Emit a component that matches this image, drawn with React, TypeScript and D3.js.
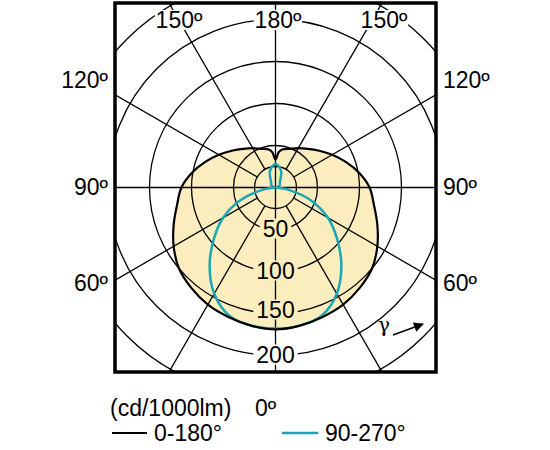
import React from 'react';
import * as d3 from 'd3';

// luminous intensity, cd/1000lm, read at gamma angles (0 = straight down)
const gammaDeg = [0, 10, 20, 30, 40, 50, 60, 70, 80, 90, 100, 110, 120, 130, 140, 150, 160, 170, 175, 180];
const plane0to180 = [169, 167, 164, 161, 156, 150, 140, 129, 119, 112, 101, 89, 78, 68, 60, 54, 49, 46, 42, 33];
const plane90to270 = [168, 167, 162, 146, 122, 96, 72, 45, 16, 1, 2, 3.5, 6, 7, 8, 12, 20, 25, 27, 28];

const gridRings = [25, 50, 100, 150, 200, 250];
const ringLabels = [50, 100, 150, 200];
const spokeDeg = [0, 30, 60, 90, 120, 150];
const topLabels = ['150º', '180º', '150º'];
const sideLabels = ['120º', '90º', '60º'];
const unitLabel = '(cd/1000lm)';
const zeroLabel = '0º';
const legendNames = ['0-180°', '90-270°'];

const FILL = '#fcedbf';
const TEAL = '#1ba6b4';
const FONT = 'Liberation Sans, Arial, sans-serif';

const App = () => {
  const W = 550, H = 450;
  const fr = { x0: 115, x1: 436, y0: 3, y1: 372 };
  const cx = (fr.x0 + fr.x1) / 2;
  const cy = (fr.y0 + fr.y1) / 2;
  const fs = 23;

  const r = d3.scaleLinear().domain([0, 250]).range([0, 210]);
  const rad = (d: number) => (d * Math.PI) / 180;

  // closed outline, symmetric about the vertical axis
  const polarPath = (vals: number[]) => {
    const pts: [number, number][] = [];
    gammaDeg.forEach((g, i) => pts.push([Math.PI - rad(g), r(vals[i])]));
    for (let i = gammaDeg.length - 2; i > 0; i--) pts.push([rad(gammaDeg[i]) - Math.PI, r(vals[i])]);
    return d3.lineRadial<[number, number]>()
      .angle(d => d[0])
      .radius(d => d[1])
      .curve(d3.curveCatmullRomClosed)(pts) || '';
  };

  const blackPath = polarPath(plane0to180);
  const tealPath = polarPath(plane90to270);

  // spokes, both sides; vertical and horizontal pass through the centre
  const far = 400;
  const spokes: { x1: number; y1: number; x2: number; y2: number }[] = [];
  spokeDeg.forEach(g => {
    [1, -1].forEach(side => {
      if (g === 0 && side === -1) return;
      const a = rad(g);
      const start = g === 0 || g === 90 ? 0 : r(25);
      spokes.push({
        x1: cx + side * start * Math.sin(a), y1: cy + start * Math.cos(a),
        x2: cx + side * far * Math.sin(a), y2: cy + far * Math.cos(a),
      });
    });
  });
  spokes.push({ x1: cx, y1: cy, x2: cx, y2: cy - far });

  const topX = [179, 278, 384];
  const sideY = [80, 187, 283];

  return (
    <svg width={W} height={H} style={{ position: 'absolute', left: 0, top: 0, background: '#fff' }}
      fontFamily={FONT}>
      <defs>
        <clipPath id="frameClip">
          <rect x={fr.x0} y={fr.y0} width={fr.x1 - fr.x0} height={fr.y1 - fr.y0} />
        </clipPath>
        <marker id="arrowHead" viewBox="0 0 10 10" refX="9" refY="5" markerWidth="12" markerHeight="10"
          markerUnits="userSpaceOnUse" orient="auto">
          <path d="M0,0 L10,5 L0,10 Z" fill="#000" />
        </marker>
      </defs>

      <g transform={`translate(${cx},${cy})`}>
        <path d={blackPath} fill={FILL} stroke="none" />
      </g>

      <g clipPath="url(#frameClip)" stroke="#000" strokeWidth={1.3} fill="none">
        {gridRings.map(v => <circle key={v} cx={cx} cy={cy} r={r(v)} />)}
        {spokes.map((s, i) => <line key={i} x1={s.x1} y1={s.y1} x2={s.x2} y2={s.y2} />)}
      </g>

      {/* radial value labels along 0º */}
      {ringLabels.map(v => {
        const y = cy + r(v) - (v === 150 ? 4 : 1);
        const w = String(v).length * 0.556 * fs + 6;
        const inside = v < 170;
        return (
          <g key={v}>
            <rect x={cx - w / 2} y={y - 10} width={w} height={20} fill={inside ? FILL : '#fff'} />
            <text x={cx} y={y} dy="0.36em" textAnchor="middle" fontSize={fs}>{v}</text>
          </g>
        );
      })}

      {/* top angle labels */}
      {topLabels.map((t, i) => {
        const w = 0.556 * 3 * fs + 10;
        return (
          <g key={i}>
            <rect x={topX[i] - w / 2} y={10} width={w} height={20} fill="#fff" />
            <text x={topX[i]} y={20} dy="0.36em" textAnchor="middle" fontSize={fs}>{t}</text>
          </g>
        );
      })}

      {sideLabels.map((t, i) => (
        <g key={i}>
          <text x={108} y={sideY[i]} dy="0.36em" textAnchor="end" fontSize={fs}>{t}</text>
          <text x={443} y={sideY[i]} dy="0.36em" textAnchor="start" fontSize={fs}>{t}</text>
        </g>
      ))}

      <g transform={`translate(${cx},${cy})`} fill="none" strokeLinejoin="round">
        <path d={tealPath} stroke={TEAL} strokeWidth={2.5} />
        <path d={blackPath} stroke="#000" strokeWidth={2.2} />
      </g>

      {/* gamma direction */}
      <text x={384} y={332} textAnchor="middle" fontSize={20} fontFamily="DejaVu Serif, serif">γ</text>
      <line x1={393} y1={335} x2={423} y2={324} stroke="#000" strokeWidth={1.5} markerEnd="url(#arrowHead)" />

      <rect x={fr.x0} y={fr.y0} width={fr.x1 - fr.x0} height={fr.y1 - fr.y0} fill="none" stroke="#000" strokeWidth={3.5} />

      <text x={110} y={416} fontSize={fs}>{unitLabel}</text>
      <text x={255} y={416} fontSize={fs}>{zeroLabel}</text>

      <line x1={112} y1={433} x2={147} y2={433} stroke="#000" strokeWidth={2} />
      <text x={154} y={441} fontSize={fs}>{legendNames[0]}</text>
      <line x1={282} y1={433} x2={318} y2={433} stroke={TEAL} strokeWidth={2.5} />
      <text x={325} y={441} fontSize={fs}>{legendNames[1]}</text>
    </svg>
  );
};

export default App;
